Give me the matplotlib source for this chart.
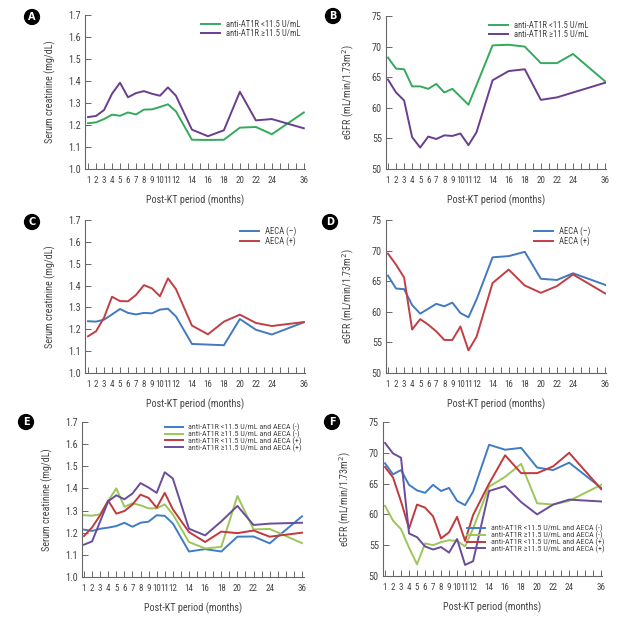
import numpy as np
import matplotlib
matplotlib.use("Agg")
import matplotlib.pyplot as plt
from matplotlib import font_manager as fm

# ---------------- data ----------------
months = [1, 2, 3, 4, 5, 6, 7, 8, 9, 10, 11, 12, 14, 16, 18, 20, 22, 24, 36]
tick_labels = ["1", "2", "3", "4", "5", "6", "7", "8", "9", "10", "11", "12",
               "14", "16", "18", "20", "22", "24", "36"]

# Panel A : serum creatinine by anti-AT1R
a_low = [1.208, 1.212, 1.227, 1.247, 1.242, 1.257, 1.248, 1.270, 1.271, 1.282, 1.294, 1.262,
         1.133, 1.132, 1.133, 1.188, 1.191, 1.158, 1.257]
a_high = [1.236, 1.241, 1.268, 1.342, 1.392, 1.326, 1.345, 1.354, 1.342, 1.333, 1.371, 1.333,
          1.179, 1.149, 1.176, 1.351, 1.221, 1.227, 1.185]

# Panel B : eGFR by anti-AT1R
b_low = [68.2, 66.4, 66.3, 63.5, 63.5, 63.1, 63.9, 62.5, 63.1, 61.8, 60.5, 63.7,
         70.2, 70.3, 70.0, 67.3, 67.3, 68.8, 64.3]
b_high = [64.6, 62.5, 61.2, 55.2, 53.5, 55.3, 54.9, 55.5, 55.4, 55.8, 53.9, 56.0,
          64.5, 66.0, 66.3, 61.3, 61.7, 62.5, 64.1]

# Panel C : serum creatinine by AECA
c_neg = [1.237, 1.235, 1.244, 1.268, 1.293, 1.275, 1.268, 1.275, 1.273, 1.290, 1.294, 1.259,
         1.133, 1.130, 1.127, 1.247, 1.198, 1.176, 1.232]
c_pos = [1.168, 1.191, 1.253, 1.349, 1.329, 1.328, 1.357, 1.402, 1.387, 1.351, 1.433, 1.384,
         1.217, 1.177, 1.235, 1.267, 1.229, 1.215, 1.233]

# Panel D : eGFR by AECA
d_neg = [65.9, 63.8, 63.7, 61.1, 59.7, 60.5, 61.3, 60.9, 61.5, 59.8, 59.1, 62.0,
         68.9, 69.1, 69.8, 65.4, 65.2, 66.3, 64.4]
d_pos = [69.5, 67.7, 65.6, 57.1, 58.8, 57.9, 56.8, 55.4, 55.4, 57.6, 53.7, 55.9,
         64.7, 66.9, 64.3, 63.1, 64.2, 66.1, 63.0]

# Panel E : serum creatinine by combined groups
e_low_neg = [1.214, 1.208, 1.218, 1.223, 1.230, 1.245, 1.227, 1.245, 1.250, 1.279, 1.276, 1.242,
             1.115, 1.126, 1.115, 1.182, 1.183, 1.152, 1.274]
e_high_neg = [1.279, 1.277, 1.283, 1.345, 1.400, 1.317, 1.333, 1.324, 1.310, 1.310, 1.328, 1.283,
              1.158, 1.129, 1.136, 1.366, 1.215, 1.217, 1.153]
e_low_pos = [1.185, 1.224, 1.279, 1.345, 1.286, 1.298, 1.327, 1.372, 1.357, 1.313, 1.380, 1.306,
             1.203, 1.158, 1.205, 1.198, 1.210, 1.182, 1.200]
e_high_pos = [1.146, 1.161, 1.251, 1.342, 1.369, 1.351, 1.377, 1.424, 1.404, 1.380, 1.473, 1.445,
              1.218, 1.188, 1.251, 1.321, 1.235, 1.241, 1.245]

# Panel F : eGFR by combined groups
f_low_neg = [68.3, 66.5, 67.2, 64.8, 63.9, 63.5, 64.8, 63.8, 64.3, 62.2, 61.5, 63.7,
             71.3, 70.5, 70.8, 67.6, 67.2, 68.4, 64.3]
f_high_neg = [61.4, 59.0, 57.6, 54.6, 51.9, 55.3, 55.0, 55.5, 55.8, 55.7, 54.8, 57.7,
              64.5, 66.1, 68.2, 61.8, 61.6, 62.2, 64.8]
f_low_pos = [67.7, 66.0, 62.1, 57.7, 61.6, 61.1, 59.7, 56.1, 57.1, 59.6, 55.7, 59.9,
             65.0, 69.6, 66.7, 66.7, 67.8, 70.0, 64.1]
f_high_pos = [71.6, 69.9, 69.2, 56.9, 56.3, 54.8, 54.3, 54.7, 53.8, 56.0, 51.8, 52.4,
              63.8, 64.6, 62.0, 60.0, 61.6, 62.4, 62.1]

lab_at_low = "anti-AT1R <11.5 U/mL"
lab_at_high = "anti-AT1R \u226511.5 U/mL"
lab_aeca_neg = "AECA (\u2013)"
lab_aeca_pos = "AECA (+)"
lab_comb = ["anti-AT1R <11.5 U/mL and AECA (-)",
            "anti-AT1R \u226511.5 U/mL and AECA (-)",
            "anti-AT1R <11.5 U/mL and AECA (+)",
            "anti-AT1R \u226511.5 U/mL and AECA (+)"]

# ---------------- style ----------------
entries = fm.fontManager.ttflist
names = {f.name for f in entries}
stretch_cond = any(f.name == "DejaVu Sans" and str(f.stretch) in ("condensed", "semi-condensed", "62.5", "75", "87.5")
                   for f in entries)
if "Liberation Sans Narrow" in names:
    fam = ["Liberation Sans Narrow", "DejaVu Sans"]
    narrow = True
elif "Roboto Condensed" in names:
    fam = ["Roboto Condensed", "DejaVu Sans"]
    narrow = True
elif stretch_cond:
    fam = ["DejaVu Sans"]
    plt.rcParams["font.stretch"] = "condensed"
    narrow = True
else:
    fam = ["DejaVu Sans"]
    narrow = False
plt.rcParams["font.family"] = fam

XFS = 6.5 if narrow else 5.6     # x tick label size
TFS = 7.3 if narrow else 6.3     # y tick label size
LFS = 7.3 if narrow else 6.5     # axis label size
GFS = 6.2 if narrow else 5.4     # legend size (two-entry)
GFS4 = 5.8 if narrow else 5.0    # legend size (four-entry)

TXT = "#444444"
AX = "#666666"
plt.rcParams["text.color"] = TXT
plt.rcParams["axes.labelcolor"] = TXT
plt.rcParams["xtick.color"] = AX
plt.rcParams["ytick.color"] = AX
plt.rcParams["xtick.labelcolor"] = TXT
plt.rcParams["ytick.labelcolor"] = TXT

GREEN = "#33aa5c"
PURPLE = "#6a3d8f"
BLUE = "#4279bf"
RED = "#bf3f44"
LGREEN = "#9cc65a"
BLUE2 = "#3f7cc6"
RED2 = "#c0393d"
PURPLE2 = "#6a4c9a"

W, H = 617, 628
fig = plt.figure(figsize=(W / 100, H / 100), dpi=100)


def pos_of(m):
    m = np.asarray(m, dtype=float)
    return np.where(m <= 24, m, 28.0)


xp = pos_of(months)


def make_ax(left, right, top, bottom, xlim):
    ax = fig.add_axes([left / W, 1 - bottom / H, (right - left) / W, (bottom - top) / H])
    for s in ["top", "right"]:
        ax.spines[s].set_visible(False)
    for s in ["left", "bottom"]:
        ax.spines[s].set_color(AX)
        ax.spines[s].set_linewidth(0.8)
    ax.set_xlim(*xlim)
    ax.set_xticks(xp)
    ax.set_xticklabels(tick_labels)
    ax.set_xticks(np.arange(1, 29), minor=True)
    ax.tick_params(axis="both", which="both", direction="in", width=0.7)
    ax.tick_params(axis="x", which="major", length=4, pad=5, labelsize=XFS)
    ax.tick_params(axis="x", which="minor", length=4)
    ax.tick_params(axis="y", length=4, pad=3, labelsize=TFS)
    ax.set_xlabel("Post-KT period (months)", fontsize=LFS, labelpad=7)
    return ax


def creat_ax(ax):
    ax.set_ylim(1.0, 1.7)
    ax.set_yticks(np.round(np.arange(1.0, 1.71, 0.1), 1))
    ax.set_yticklabels([f"{v:.1f}" for v in np.arange(1.0, 1.71, 0.1)])
    ax.set_ylabel("Serum creatinine (mg/dL)", fontsize=LFS, labelpad=9)


def egfr_ax(ax):
    ax.set_ylim(50, 75)
    ax.set_yticks(np.arange(50, 76, 5))
    ax.set_ylabel("eGFR (mL/min/1.73m$^2$)", fontsize=LFS, labelpad=11)


def leg(ax, loc, anchor, fs=GFS, ls=0.05):
    lg = ax.legend(loc=loc, bbox_to_anchor=anchor, frameon=False, fontsize=fs,
                   handlelength=2.2, handletextpad=0.7, labelspacing=ls,
                   borderaxespad=0.0, borderpad=0.0)
    return lg


LW = 1.4

# Panel A
axA = make_ax(85, 305, 15, 169, (0.62, 28.15))
creat_ax(axA)
axA.plot(xp, a_low, color=GREEN, lw=LW, label=lab_at_low)
axA.plot(xp, a_high, color=PURPLE, lw=LW, label=lab_at_high)
leg(axA, "upper right", (0.98, 0.97))

# Panel B
axB = make_ax(386, 606, 16, 169, (0.75, 28.1))
egfr_ax(axB)
axB.plot(xp, b_low, color=GREEN, lw=LW, label=lab_at_low)
axB.plot(xp, b_high, color=PURPLE, lw=LW, label=lab_at_high)
leg(axB, "upper right", (0.92, 0.97))

# Panel C
axC = make_ax(85, 305, 220, 373, (0.62, 28.15))
creat_ax(axC)
axC.plot(xp, c_neg, color=BLUE, lw=LW, label=lab_aeca_neg)
axC.plot(xp, c_pos, color=RED, lw=LW, label=lab_aeca_pos)
leg(axC, "upper right", (0.96, 0.96))

# Panel D
axD = make_ax(386, 606, 220, 373, (0.75, 28.1))
egfr_ax(axD)
axD.plot(xp, d_neg, color=BLUE, lw=LW, label=lab_aeca_neg)
axD.plot(xp, d_pos, color=RED, lw=LW, label=lab_aeca_pos)
leg(axD, "upper right", (0.93, 0.96))

# Panel E
axE = make_ax(82, 304, 422, 577, (0.75, 28.25))
creat_ax(axE)
for ys, c, lb in zip([e_low_neg, e_high_neg, e_low_pos, e_high_pos],
                     [BLUE2, LGREEN, RED2, PURPLE2], lab_comb):
    axE.plot(xp, ys, color=c, lw=LW, label=lb)
leg(axE, "upper right", (0.99, 0.99), fs=GFS4, ls=-0.1)

# Panel F
axF = make_ax(383, 602, 422, 576, (0.75, 28.1))
egfr_ax(axF)
for ys, c, lb in zip([f_low_neg, f_high_neg, f_low_pos, f_high_pos],
                     [BLUE2, LGREEN, RED2, PURPLE2], lab_comb):
    axF.plot(xp, ys, color=c, lw=LW, label=lb)
leg(axF, "lower right", (1.01, 0.15), fs=GFS4, ls=-0.1)

# panel letters
for letter, (px, py) in zip("ABCDEF", [(32, 17), (333, 16), (32, 222), (330, 222),
                                      (26, 422), (332, 422)]):
    fig.text(px / W, 1 - py / H, letter, ha="center", va="center", color="white",
             fontsize=7, fontweight="bold", family=["DejaVu Sans"], fontstretch="normal",
             bbox=dict(boxstyle="circle,pad=0.25", fc="black", ec="black"))

fig.savefig("out.png", dpi=100, facecolor="white")
